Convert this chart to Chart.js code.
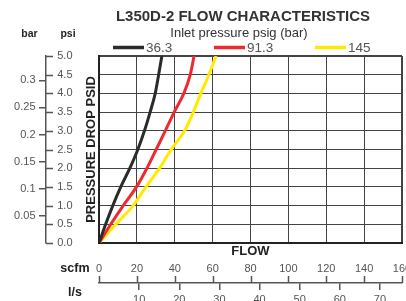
<!DOCTYPE html>
<html><head><meta charset="utf-8">
<script src="https://cdn.jsdelivr.net/npm/chart.js@4.4.1/dist/chart.umd.min.js"></script>
<style>html,body{margin:0;padding:0;background:#fff}#wrap{width:406px;height:301px}</style>
</head><body><div id="wrap"><canvas id="c" width="406" height="301"></canvas></div>
<script>
// ---- data ----
const psiLevels = [0, 0.5, 1, 1.5, 2, 2.5, 3, 3.5, 4, 4.5, 5];
const flow363 = [0, 3.5, 7.3, 11.5, 16.3, 20.5, 24.0, 27.0, 29.7, 31.5, 33.2];
const flow913 = [0, 6.2, 12.8, 19.8, 25.3, 30.2, 35.0, 39.7, 44.8, 48.2, 50.2];
const flow145 = [0, 8.9, 18.0, 24.8, 32.0, 38.1, 45.2, 49.8, 53.8, 58.0, 61.8];
const seriesLabels = ['36.3', '91.3', '145'];
const psiTicks = [0, 0.5, 1, 1.5, 2, 2.5, 3, 3.5, 4, 4.5, 5];
const barTicks = [0.05, 0.1, 0.15, 0.2, 0.25, 0.3];
const scfmTicks = [0, 20, 40, 60, 80, 100, 120, 140, 160];
const lsTicks = [10, 20, 30, 40, 50, 60, 70];
const PSI_PER_BAR = 14.5038;
const SCFM_PER_LS = 2.11888;
const titleText = 'L350D-2 FLOW CHARACTERISTICS';
const subtitleText = 'Inlet pressure psig (bar)';

const FONT = "'Liberation Sans', Arial, Helvetica, sans-serif";
Chart.defaults.font.family = FONT;

const pts = arr => arr.map((f, i) => ({x: f, y: psiLevels[i]}));
const fixW = w => s => { s.width = w; s.paddingTop = 0; s.paddingBottom = 0; };
const fixH = h => s => { s.height = h; s.paddingLeft = 0; s.paddingRight = 0; };
const setTicks = list => s => { s.ticks = list.map(v => ({value: v})); };

const GRID = '#444';
const AXIS = '#555';
const edgeW = (max) => c => (c.tick && Math.abs(c.tick.value - max) < 1e-9) ? 2 : 1;

const extras = {
  id: 'extras',
  afterLayout(chart) {
    if (chart.titleBlock) { chart.titleBlock.left += 42; chart.titleBlock.right += 42; }
    chart.boxes.forEach(b => {
      if (b !== chart.titleBlock && b.options && b.options.text === subtitleText) { b.left += 38; b.right += 38; }
    });
  },
  afterDraw(chart) {
    const ctx = chart.ctx;
    const {ybar, ypsi, xs, xl} = chart.scales;
    ctx.save();
    ctx.strokeStyle = AXIS; ctx.lineWidth = 1.5;
    // psi tick marks (to the right of the shared left axis line)
    const bx = ybar.right;
    psiTicks.forEach(v => {
      const y = Math.round(ypsi.getPixelForValue(v)) + 0.5;
      ctx.beginPath(); ctx.moveTo(bx, y); ctx.lineTo(bx + 7, y); ctx.stroke();
    });
    // scfm tick marks (upwards from the shared bottom axis line)
    scfmTicks.forEach(v => {
      const x = Math.round(xs.getPixelForValue(v)) + 0.5;
      ctx.beginPath(); ctx.moveTo(x, xl.top); ctx.lineTo(x, xl.top - 7); ctx.stroke();
    });
    // unit labels
    ctx.fillStyle = '#222';
    ctx.textBaseline = 'middle'; ctx.textAlign = 'center';
    ctx.font = 'bold 10.5px ' + FONT;
    ctx.fillText('bar', 29.5, 34);
    ctx.fillText('psi', 68, 34);
    ctx.font = 'bold 12.5px ' + FONT;
    ctx.textAlign = 'right';
    ctx.fillText('scfm', 89.5, 268.5);
    ctx.textAlign = 'center';
    ctx.fillText('l/s', 75, 292.5);
    // legend
    ctx.font = '13.5px ' + FONT;
    ctx.textAlign = 'left';
    chart.data.datasets.forEach((ds, i) => {
      const x0 = 113 + i * 101, y = 47.5;
      ctx.strokeStyle = ds.borderColor; ctx.lineWidth = 3.5; ctx.lineCap = 'butt';
      ctx.beginPath(); ctx.moveTo(x0, y); ctx.lineTo(x0 + 31, y); ctx.stroke();
      ctx.fillStyle = '#555';
      ctx.fillText(ds.label, x0 + 33, y + 0.5);
    });
    ctx.restore();
  }
};

new Chart(document.getElementById('c'), {
  type: 'line',
  data: {
    datasets: [
      {label: seriesLabels[0], data: pts(flow363), borderColor: '#2b2b2b'},
      {label: seriesLabels[1], data: pts(flow913), borderColor: '#ee2a30'},
      {label: seriesLabels[2], data: pts(flow145), borderColor: '#ffea00'}
    ].map(d => Object.assign(d, {borderWidth: 3, pointRadius: 0, cubicInterpolationMode: 'monotone', fill: false}))
  },
  options: {
    responsive: false,
    animation: false,
    devicePixelRatio: 1,
    layout: {padding: {left: 0, right: 4, top: 0, bottom: 0}},
    plugins: {
      legend: {display: false},
      tooltip: {enabled: false},
      title: {display: true, text: titleText, color: '#333',
        font: {size: 15, weight: 'bold'}, padding: {top: 7.5, bottom: 0}},
      subtitle: {display: true, text: subtitleText, color: '#333',
        font: {size: 13}, padding: {top: 0, bottom: 14.9}}
    },
    scales: {
      x: {type: 'linear', position: 'bottom', weight: 0, min: 0, max: 160,
        ticks: {display: false, stepSize: 20},
        grid: {color: GRID, lineWidth: edgeW(160), drawTicks: false},
        border: {display: true, color: '#222', width: 2},
        title: {display: true, text: 'FLOW', color: '#222', font: {size: 13, weight: 'bold'}, padding: 0},
        afterFit: fixH(16.5)},
      xs: {type: 'linear', position: 'bottom', weight: 1, min: 0, max: 160,
        afterBuildTicks: setTicks(scfmTicks),
        ticks: {padding: 3, color: '#555', font: {size: 11}, maxRotation: 0, autoSkip: false,
          callback: v => String(v)},
        grid: {display: false, drawTicks: false},
        border: {display: false},
        afterFit: fixH(23.5)},
      xl: {type: 'linear', position: 'bottom', weight: 2, min: 0, max: 160 / SCFM_PER_LS,
        afterBuildTicks: setTicks(lsTicks),
        ticks: {padding: 3.5, color: '#555', font: {size: 11}, maxRotation: 0, autoSkip: false,
          callback: v => String(v)},
        grid: {display: true, drawOnChartArea: false, drawTicks: true, tickLength: 7, color: AXIS, lineWidth: 1.5},
        border: {display: true, color: AXIS, width: 1.5},
        afterFit: fixH(18)},
      y: {type: 'linear', position: 'left', weight: 0, min: 0, max: 5,
        ticks: {display: false, stepSize: 0.5},
        grid: {color: GRID, lineWidth: edgeW(5), drawTicks: false},
        border: {display: true, color: '#222', width: 2},
        title: {display: true, text: 'PRESSURE DROP PSID', color: '#222', font: {size: 13, weight: 'bold'}, padding: 0},
        afterFit: fixW(15)},
      ypsi: {type: 'linear', position: 'left', weight: 1, min: 0, max: 5,
        afterBuildTicks: setTicks(psiTicks),
        ticks: {padding: 11.5, color: '#555', font: {size: 11}, callback: v => v.toFixed(1)},
        grid: {display: false, drawTicks: false},
        border: {display: false},
        afterFit: fixW(38)},
      ybar: {type: 'linear', position: 'left', weight: 2, min: 0, max: 5 / PSI_PER_BAR,
        afterBuildTicks: setTicks(barTicks),
        ticks: {padding: 3.5, color: '#555', font: {size: 11}, callback: v => String(v)},
        grid: {display: true, drawOnChartArea: false, drawTicks: true, tickLength: 7, color: AXIS, lineWidth: 1.5},
        border: {display: true, color: AXIS, width: 1.5},
        afterFit: fixW(46)}
    }
  },
  plugins: [extras]
});
</script>
</body></html>
